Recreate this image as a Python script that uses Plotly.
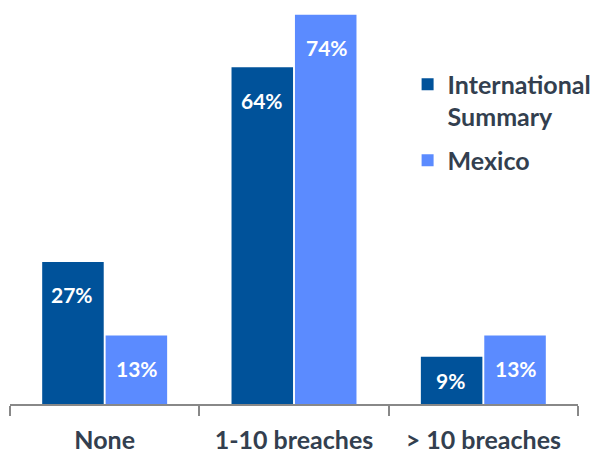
import plotly.graph_objects as go

categories = ["None", "1-10 breaches", "> 10 breaches"]
intl_values = [27, 64, 9]
mexico_values = [13, 74, 13]
series_names = ["International<br>Summary", "Mexico"]
colors = ["#00529A", "#5B8BFF"]

fig = go.Figure()
for name, vals, col in zip(series_names, [intl_values, mexico_values], colors):
    fig.add_trace(go.Bar(x=categories, y=vals, name=name, marker_color=col,
                         marker_line_width=0, hoverinfo="skip", legendgroup=name))

font_family = "Lato, 'Open Sans', sans-serif"
px_per_unit = 408 / 76.8
offset_units = 33 / px_per_unit
for i, (vals, shift) in enumerate([(intl_values, -32.5), (mexico_values, 32.5)]):
    for c, v in zip(categories, vals):
        ypos = max(v - offset_units, v / 2)
        fig.add_annotation(x=c, y=ypos, text=f"{v}%", showarrow=False, xshift=shift,
                           yanchor="middle",
                           font=dict(family=font_family, size=21, color="white", weight="bold"))

fig.update_layout(
    width=599, height=454,
    margin=dict(l=10, r=21, t=0, b=46),
    paper_bgcolor="white", plot_bgcolor="white",
    barmode="group", bargap=0.33, bargroupgap=0.03,
    font=dict(family=font_family, color="#333F4F"),
    legend=dict(x=0.70, y=0.848, xanchor="left", yanchor="top", valign="top",
                traceorder="grouped",
                font=dict(family=font_family, size=25, color="#333F4F", weight="bold"),
                tracegroupgap=8, bgcolor="rgba(0,0,0,0)"),
    xaxis=dict(showline=True, linecolor="#888888", linewidth=2, ticks="outside",
               tickson="boundaries", ticklen=10, tickcolor="#888888", tickwidth=2,
               ticklabelstandoff=13,
               tickfont=dict(family=font_family, size=25, color="#333F4F", weight="bold"),
               showgrid=False, fixedrange=True),
    yaxis=dict(range=[0, 76.8], visible=False, showgrid=False, fixedrange=True),
)
fig.write_html("out.html", config={"displayModeBar": False},
               post_script="document.body.style.margin='0';")
